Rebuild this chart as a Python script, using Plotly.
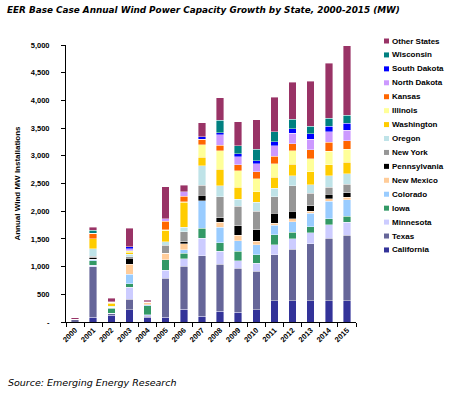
import plotly.graph_objects as go

years = [str(y) for y in range(2000, 2016)]

states = ["California", "Texas", "Minnesota", "Iowa", "Colorado", "New Mexico",
          "Pennsylvania", "New York", "Oregon", "Washington", "Illinois", "Kansas",
          "North Dakota", "South Dakota", "Wisconsin", "Other States"]

california   = [0, 84, 120, 220, 85, 90, 230, 100, 190, 180, 220, 380, 380, 380, 380, 380]
texas        = [40, 915, 30, 190, 20, 700, 775, 1100, 850, 790, 700, 835, 930, 1035, 1135, 1185]
minnesota    = [10, 25, 10, 220, 30, 140, 140, 310, 240, 140, 145, 180, 190, 200, 240, 240]
iowa         = [0, 85, 90, 60, 160, 190, 100, 180, 150, 170, 150, 180, 120, 100, 108, 100]
colorado     = [0, 25, 15, 170, 20, 0, 60, 500, 280, 190, 180, 170, 190, 250, 320, 300]
new_mexico   = [0, 0, 0, 180, 40, 125, 108, 0, 90, 100, 60, 40, 50, 35, 40, 50]
pennsylvania = [0, 25, 0, 110, 0, 0, 40, 100, 78, 170, 210, 180, 140, 100, 80, 80]
new_york     = [0, 25, 0, 30, 0, 140, 180, 180, 385, 350, 330, 300, 460, 220, 130, 150]
oregon       = [0, 140, 20, 40, 0, 60, 78, 350, 200, 130, 170, 150, 180, 155, 210, 190]
washington   = [0, 180, 50, 40, 10, 200, 450, 150, 290, 210, 190, 200, 210, 235, 200, 210]
illinois     = [0, 0, 10, 30, 0, 20, 10, 230, 340, 300, 230, 240, 240, 240, 235, 230]
kansas       = [0, 100, 15, 0, 0, 150, 100, 100, 100, 110, 130, 140, 130, 160, 170, 160]
north_dakota = [0, 0, 0, 35, 0, 45, 78, 0, 186, 145, 140, 190, 185, 185, 190, 190]
south_dakota = [0, 0, 0, 30, 0, 0, 0, 40, 35, 50, 60, 70, 85, 100, 95, 120]
wisconsin    = [0, 50, 10, 0, 0, 0, 0, 0, 230, 150, 200, 180, 170, 140, 145, 150]
other_states = [25, 60, 60, 340, 30, 580, 120, 260, 400, 430, 535, 620, 670, 810, 990, 1250]

series = [california, texas, minnesota, iowa, colorado, new_mexico, pennsylvania,
          new_york, oregon, washington, illinois, kansas, north_dakota, south_dakota,
          wisconsin, other_states]

colors = ["#333399", "#666699", "#CCCCFF", "#339966", "#99CCFF", "#FFCC99",
          "#000000", "#969696", "#BFE3E8", "#FFCC00", "#FFFF99", "#FF6600",
          "#CC99FF", "#0000FF", "#008080", "#993366"]

y_tickvals = [0, 500, 1000, 1500, 2000, 2500, 3000, 3500, 4000, 4500, 5000]
y_ticktext = ["-", "500", "1,000", "1,500", "2,000", "2,500", "3,000", "3,500",
              "4,000", "4,500", "5,000"]

fig = go.Figure()
for name, vals, col in zip(states, series, colors):
    fig.add_trace(go.Bar(x=years, y=vals, name=name,
                         marker=dict(color=col, line=dict(color="white", width=0.4)),
                         showlegend=False))

W, H = 450, 395
ml, mr, mt, mb = 66, 94, 45, 73
pw, ph = W - ml - mr, H - mt - mb

# custom compact legend (Excel-like)
leg_x_px = 384
leg_y0_px = 41
leg_step = 13.93
sq = 5
shapes = []
annotations = []
for i, (name, col) in enumerate(reversed(list(zip(states, colors)))):
    ypx = leg_y0_px + i * leg_step
    x0 = (leg_x_px - ml) / pw
    x1 = (leg_x_px + sq - ml) / pw
    yc = (H - mb - ypx) / ph
    shapes.append(dict(type="rect", xref="paper", yref="paper",
                       x0=x0, x1=x1, y0=yc - (sq / 2) / ph, y1=yc + (sq / 2) / ph,
                       fillcolor=col, line=dict(width=0)))
    annotations.append(dict(xref="paper", yref="paper", x=(leg_x_px + sq + 1 - ml) / pw,
                            y=yc, xanchor="left", yanchor="middle", showarrow=False,
                            text="<b>" + name + "</b>",
                            font=dict(family="Liberation Sans, Arial", size=8, color="#000")))

annotations.append(dict(xref="paper", yref="paper", x=(6 - ml) / pw, y=(H - mb - 382) / ph,
                        xanchor="left", yanchor="middle", showarrow=False,
                        text="<i>Source: Emerging Energy Research</i>",
                        font=dict(family="DejaVu Sans, Verdana", size=9.5, color="#000")))

fig.update_layout(
    width=W, height=H,
    margin=dict(l=ml, r=mr, t=mt, b=mb, pad=0, autoexpand=False),
    paper_bgcolor="white", plot_bgcolor="white",
    barmode="stack", bargap=0.59,
    title=dict(text="<b><i>EER Base Case Annual Wind Power Capacity Growth by State, 2000-2015 (MW)</i></b>",
               x=7 / W, xanchor="left", y=1 - 10 / H, yanchor="middle",
               font=dict(family="DejaVu Sans, Verdana", size=8.85, color="#000")),
    xaxis=dict(type="category", showline=True, linecolor="#000", linewidth=1,
               ticks="outside", tickson="boundaries", ticklen=4, tickcolor="#000",
               tickangle=-45, showgrid=False, automargin=False,
               tickfont=dict(family="Liberation Sans, Arial", size=7.5, color="#000")),
    yaxis=dict(range=[0, 5000], tickvals=y_tickvals,
               ticktext=["<b>" + t + "</b>" for t in y_ticktext],
               showline=True, linecolor="#000", linewidth=1, ticks="outside",
               ticklen=4, tickcolor="#000", showgrid=False, zeroline=False,
               automargin=False, ticklabelstandoff=10,
               tickfont=dict(family="Liberation Sans, Arial", size=7.5, color="#000"),
               title=dict(text="<b>Annual Wind MW Installations</b>", standoff=8,
                          font=dict(family="Liberation Sans, Arial", size=8, color="#000"))),
    shapes=shapes, annotations=annotations,
)
fig.update_xaxes(ticktext=["<b>" + y + "</b>" for y in years], tickvals=years)

fig.write_html("out.html", config={"displayModeBar": False},
               post_script="document.body.style.margin='0';document.body.style.padding='0';")
